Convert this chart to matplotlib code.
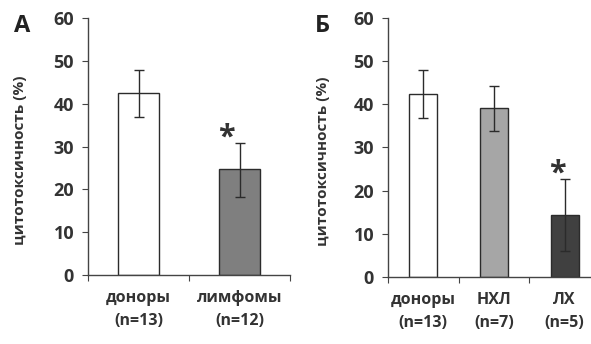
import matplotlib

matplotlib.use("Agg")

import matplotlib.pyplot as plt

plt.rcParams["font.family"] = ["Open Sans", "DejaVu Sans"]
plt.rcParams["font.weight"] = "bold"
plt.rcParams["axes.labelweight"] = "bold"

# panel A: donors vs lymphoma patients
a_labels = ["доноры\n(n=13)", "лимфомы\n(n=12)"]
a_means = [42.5, 24.8]
a_low = [36.9, 18.2]
a_high = [47.9, 30.8]
a_colors = ["white", "#7f7f7f"]

# panel B: donors vs NHL vs HL
b_labels = ["доноры\n(n=13)", "НХЛ\n(n=7)", "ЛХ\n(n=5)"]
b_means = [42.4, 39.1, 14.4]
b_low = [36.8, 33.8, 6.0]
b_high = [47.9, 44.2, 22.7]
b_colors = ["white", "#a6a6a6", "#404040"]

TXT = "#333333"


def _panel(ax, labels, means, low, high, colors, width, star_idx, star_dx, letter, lab_x):
    x = list(range(len(labels)))
    yerr = [[m - l for m, l in zip(means, low)], [h - m for m, h in zip(means, high)]]
    ax.bar(x, means, width=width, color=colors, edgecolor="#2b2b2b", linewidth=1.0, zorder=2)
    ax.errorbar(x, means, yerr=yerr, fmt="none", ecolor="#2b2b2b", elinewidth=1.0,
                capsize=3.5, capthick=1.0, zorder=3)
    ax.set_xlim(-0.5, len(labels) - 0.5)
    ax.set_ylim(0, 60)
    ax.set_yticks(range(0, 61, 10))
    ax.set_xticks([i + 0.5 for i in range(-1, len(labels))])
    ax.set_xticklabels([])
    ax.set_xticks(x, minor=True)
    ax.set_xticklabels(labels, minor=True, fontsize=11.5, color=TXT, linespacing=1.55)
    ax.tick_params(axis="x", which="minor", length=0, pad=11)
    ax.tick_params(axis="x", which="major", length=4, direction="out", color="#444444")
    ax.tick_params(axis="y", length=4, direction="out", color="#444444", labelsize=13,
                   labelcolor=TXT, pad=6)
    for s in ("top", "right"):
        ax.spines[s].set_visible(False)
    for s in ("left", "bottom"):
        ax.spines[s].set_color("#444444")
        ax.spines[s].set_linewidth(1.0)
    ax.set_ylabel("цитотоксичность (%)", fontsize=11, color=TXT)
    ax.yaxis.set_label_coords(lab_x, 0.445)
    ax.text(star_idx + star_dx, high[star_idx] - 0.6, "*", ha="center", va="baseline",
            fontsize=22, color=TXT)
    ax.annotate(letter, xy=(0, 1), xycoords="axes fraction", xytext=(-53, 3),
                textcoords="offset points", fontsize=17, color="#222222",
                ha="left", va="top")


fig = plt.figure(figsize=(5.91, 3.44), dpi=100)
ax_a = fig.add_axes([0.1489, 0.2006, 0.342, 0.747])
ax_b = fig.add_axes([0.6565, 0.1948, 0.3587, 0.753])

_panel(ax_a, a_labels, a_means, a_low, a_high, a_colors, 0.41, 1, -0.13, "А", -0.30)
_panel(ax_b, b_labels, b_means, b_low, b_high, b_colors, 0.40, 2, -0.11, "Б", -0.275)

fig.savefig("out.png", dpi=100)
